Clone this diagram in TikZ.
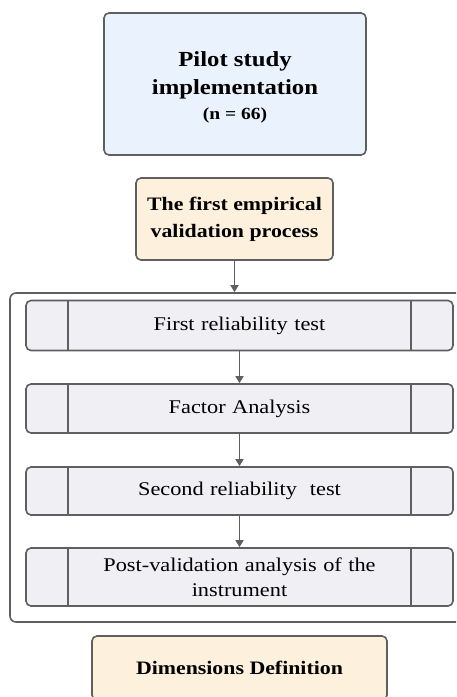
\documentclass[tikz,border=0pt]{standalone}
\usepackage{fontspec}
\setmainfont{Liberation Serif}[FakeStretch=1.15]
\usetikzlibrary{arrows.meta}
\definecolor{edge}{HTML}{5F5F5F}
\definecolor{blueF}{HTML}{EAF2FD}
\definecolor{peachF}{HTML}{FDF0DC}
\definecolor{rowF}{HTML}{EFEFF4}
\tikzset{
  box/.style={draw=edge, line width=1.6pt, rounded corners=5pt, align=center, inner sep=0pt},
  rowbox/.style={box, fill=rowF, minimum width=427pt, text width=330pt},
  conn/.style={draw=edge, line width=1.3pt, -{Triangle[width=8pt,length=7pt]}},
  rowtext/.style={font=\fontsize{19.4}{25}\selectfont},
}
\begin{document}
\begin{tikzpicture}[x=1pt,y=1pt]
\useasboundingbox (0,0) rectangle (456,-697);
\clip (0,0) rectangle (456,-697);
\node[box, fill=blueF, minimum width=262pt, minimum height=142pt] (pilot) at (235,-84) {};
\node[align=center, inner sep=0pt, font=\bfseries\fontsize{21.5}{28}\selectfont] (pilottext) at (235,-87)
  {Pilot study\\ implementation\\[-3pt] \fontsize{17}{20}\selectfont (n = 66)};
\node[box, fill=peachF, minimum width=197pt, minimum height=82pt, font=\bfseries\fontsize{19}{27}\selectfont] (first) at (234.5,-219)
  {The first empirical\\ validation process};
\node[box, fill=white, rounded corners=6pt, minimum width=452pt, minimum height=329pt] (outer) at (236,-457.5) {};
\node[rowbox, rowtext, minimum height=50pt] (r1) at (239.5,-325.5) {First reliability test};
\node[rowbox, rowtext, minimum height=49pt] (r2) at (239.5,-408.5) {Factor Analysis};
\node[rowbox, rowtext, minimum height=48pt] (r3) at (239.5,-491) {Second reliability\ \ test};
\node[rowbox, rowtext, minimum height=58pt] (r4) at (239.5,-577) {Post-validation analysis of the\\ instrument};
\foreach \r in {r1,r2,r3,r4}{
  \draw[draw=edge, line width=1.6pt] ([xshift=43pt]\r.north west) -- ([xshift=43pt]\r.south west);
  \draw[draw=edge, line width=1.6pt] ([xshift=-43pt]\r.north east) -- ([xshift=-43pt]\r.south east);
}
\node[box, fill=peachF, minimum width=295pt, minimum height=64pt, font=\bfseries\fontsize{19}{24}\selectfont] (dims) at (239.5,-668)
  {Dimensions Definition};
\draw[conn] (first.south) -- (first.south |- outer.north);
\draw[conn] (r1.south) -- (r2.north);
\draw[conn] (r2.south) -- (r3.north);
\draw[conn] (r3.south) -- (r4.north);
\end{tikzpicture}
\end{document}
